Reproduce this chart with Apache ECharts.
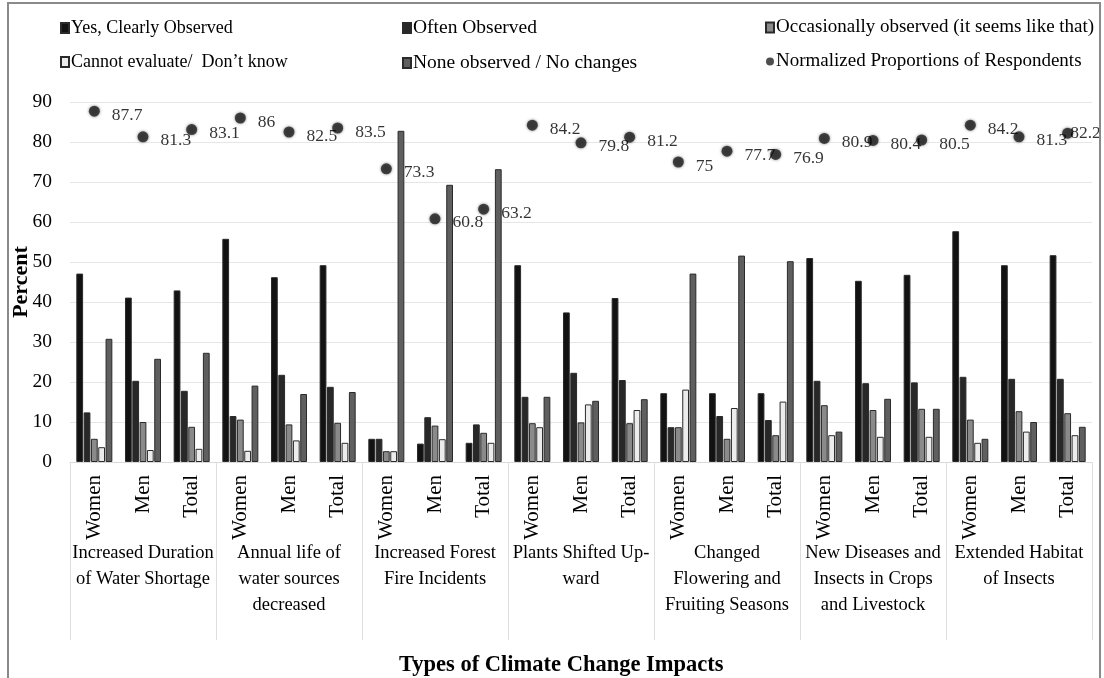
<!DOCTYPE html>
<html>
<head>
<meta charset="utf-8">
<script src="https://cdn.jsdelivr.net/npm/echarts@6/dist/echarts.min.js"></script>
<style>html,body{margin:0;padding:0;background:#fff;}#c{width:1104px;height:678px;}</style>
</head>
<body>
<div id="c"></div>
<script>
const groups = [
  'Increased Duration\nof Water Shortage',
  'Annual life of\nwater sources\ndecreased',
  'Increased Forest\nFire Incidents',
  'Plants Shifted Up-\nward',
  'Changed\nFlowering and\nFruiting Seasons',
  'New Diseases and\nInsects in Crops\nand Livestock',
  'Extended Habitat\nof Insects'
];
const subs = ['Women', 'Men', 'Total'];
const yTicks = [0, 10, 20, 30, 40, 50, 60, 70, 80, 90];
const seriesNames = ['Yes, Clearly Observed', 'Often Observed', 'Occasionally observed (it seems like that)', 'Cannot evaluate/  Don\u2019t know', 'None observed / No changes', 'Normalized Proportions of Respondents'];
const yes    = [47.1, 41.1, 42.9, 55.8, 46.2, 49.2, 5.8, 4.6, 4.8, 49.2, 37.4, 41.0, 17.2, 17.2, 17.2, 51.0, 45.3, 46.8, 57.7, 49.2, 51.7];
const often  = [12.4, 20.3, 17.8, 11.5, 21.8, 18.8, 5.8, 11.2, 9.4, 16.3, 22.3, 20.5, 8.7, 11.5, 10.5, 20.3, 19.7, 19.9, 21.3, 20.8, 20.8];
const occ    = [5.8, 10.0, 8.8, 10.6, 9.4, 9.8, 2.7, 9.1, 7.3, 9.7, 9.9, 9.7, 8.7, 5.8, 6.7, 14.2, 13.0, 13.3, 10.6, 12.7, 12.2];
const cannot = [3.7, 3.0, 3.3, 2.8, 5.4, 4.8, 2.7, 5.7, 4.8, 8.7, 14.4, 13.0, 18.1, 13.5, 15.1, 6.7, 6.3, 6.3, 4.8, 7.6, 6.7];
const none   = [30.8, 25.8, 27.3, 19.1, 17.0, 17.5, 82.8, 69.3, 73.2, 16.3, 15.3, 15.7, 47.1, 51.6, 50.2, 7.6, 15.8, 13.3, 5.8, 10.0, 8.8];
const norm   = [87.7, 81.3, 83.1, 86, 82.5, 83.5, 73.3, 60.8, 63.2, 84.2, 79.8, 81.2, 75, 77.7, 76.9, 80.9, 80.4, 80.5, 84.2, 81.3, 82.2];

const cats = [];
groups.forEach(() => subs.forEach(s => cats.push(s)));
const FF = '"Liberation Serif", "Times New Roman", serif';
const barColors = ['#121212', '#282828', '#8a8a8a', '#ececec', '#5f5f5f'];
const barData = [yes, often, occ, cannot, none];

const chart = echarts.init(document.getElementById('c'), null, {renderer: 'canvas'});
const series = barData.map((d, i) => ({
  name: seriesNames[i],
  type: 'bar',
  data: d,
  barGap: '8%',
  barCategoryGap: '26%',
  itemStyle: {color: barColors[i], borderColor: '#2a2a2a', borderWidth: 1},
  emphasis: {disabled: true}
}));
series.push({
  name: seriesNames[5],
  type: 'scatter',
  data: norm.map((v, i) => i === norm.length - 1 ? {value: v, label: {distance: 0, offset: [-3, 0]}} : v),
  symbol: 'circle',
  symbolSize: 11,
  itemStyle: {color: '#222', shadowBlur: 3, shadowColor: 'rgba(0,0,0,0.6)'},
  label: {show: true, position: 'right', distance: 12, offset: [0, 4], formatter: '{c}', color: '#000', fontSize: 17.5, fontFamily: FF, textBorderWidth: 0},
  z: 5
});

const legendCommon = {
  orient: 'vertical', top: 14, itemWidth: 8, itemHeight: 10, itemGap: 16,
  icon: 'rect',
  textStyle: {fontFamily: FF, fontSize: 18, color: '#000', padding: [0, 0, 0, -3]},
  selectedMode: false
};
const wideText = {fontFamily: FF, fontSize: 19.5, color: '#000', padding: [0, 0, 0, -3]};
const wideText3 = {fontFamily: FF, fontSize: 19, color: '#000', padding: [0, 0, 0, -3]};

chart.setOption({
  animation: false,
  backgroundColor: '#fff',
  title: {
    text: 'Types of Climate Change Impacts',
    left: 394, top: 649,
    textStyle: {fontFamily: FF, fontSize: 22.5, fontWeight: 'bold', color: '#000'}
  },
  legend: [
    Object.assign({}, legendCommon, {left: 55, data: [{name: seriesNames[0]}, {name: seriesNames[3]}]}),
    Object.assign({}, legendCommon, {left: 397, top: 13, itemGap: 15, textStyle: wideText, data: [{name: seriesNames[1]}, {name: seriesNames[4]}]}),
    Object.assign({}, legendCommon, {left: 760, top: 13, itemGap: 15, textStyle: wideText3, data: [{name: seriesNames[2]}, {name: seriesNames[5], icon: 'circle', itemWidth: 9, itemHeight: 9}]})
  ],
  grid: {left: 70, right: 12, top: 102, bottom: 216, containLabel: false, outerBoundsMode: 'none'},
  xAxis: [
    {
      type: 'category', data: cats, position: 'bottom',
      axisLine: {show: true, lineStyle: {color: '#d9d9d9', width: 1}},
      axisTick: {show: false},
      axisLabel: {interval: 0, rotate: 90, margin: 13, fontFamily: FF, fontSize: 21, color: '#000'}
    },
    {
      type: 'category', data: groups, position: 'bottom',
      axisLine: {show: false},
      axisTick: {show: true, length: 178, interval: 0, lineStyle: {color: '#dedede', width: 1}},
      axisLabel: {interval: 0, margin: 78, fontFamily: FF, fontSize: 18.5, lineHeight: 26, color: '#000', align: 'center'},
      splitLine: {show: false}
    }
  ],
  yAxis: {
    type: 'value', min: 0, max: 90, interval: 10,
    name: 'Percent', nameLocation: 'middle', nameGap: 38, nameRotate: 90, nameMoveOverlap: false,
    nameTextStyle: {fontFamily: FF, fontSize: 22, fontWeight: 'bold', color: '#000'},
    axisLine: {show: false}, axisTick: {show: false},
    axisLabel: {margin: 18, fontFamily: FF, fontSize: 19.5, color: '#000',
      formatter: v => (yTicks.indexOf(v) >= 0 ? String(v) : '')},
    splitLine: {lineStyle: {color: '#e6e6e6', width: 1}}
  },
  graphic: [
    {type: 'rect', shape: {x: 8, y: 3, width: 1092, height: 700}, style: {fill: 'none', stroke: '#8a8a8a', lineWidth: 2}, silent: true, z: 100}
  ],
  series: series
});
</script>
</body>
</html>
